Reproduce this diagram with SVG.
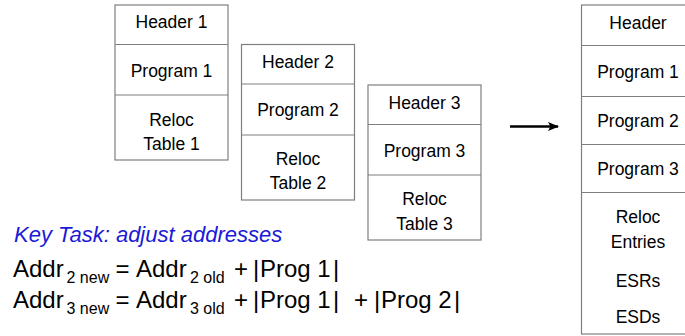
<svg xmlns="http://www.w3.org/2000/svg" width="685" height="336" viewBox="0 0 685 336">
<defs>
<style>
.box{fill:#fff;stroke:#7f7f7f;stroke-width:1.2}
.div{stroke:#7f7f7f;stroke-width:1.2}
.lbl{font-family:"Liberation Sans",Arial,sans-serif;font-size:17.5px;fill:#000;text-anchor:middle}
.eq{font-family:"Liberation Sans",Arial,sans-serif;font-size:24px;fill:#000}
.sub{font-size:16px}
.key{font-family:"Liberation Sans",Arial,sans-serif;font-size:22px;font-style:italic;fill:#1a1ad6}
</style>
<marker id="ah" markerWidth="11" markerHeight="9" refX="10" refY="4.5" orient="auto" markerUnits="userSpaceOnUse">
<path d="M0,0 L11,4.5 L0,9 L2.5,4.5 Z" fill="#000"/>
</marker>
</defs>
<rect width="685" height="336" fill="#fff"/>

<g id="file1">
<rect class="box" x="115" y="5" width="113" height="155"/>
<line class="div" x1="115" y1="44.5" x2="228" y2="44.5"/>
<line class="div" x1="115" y1="95" x2="228" y2="95"/>
<text class="lbl" x="171.5" y="28">Header 1</text>
<text class="lbl" x="171.5" y="77">Program 1</text>
<text class="lbl" x="171.5" y="126">Reloc</text>
<text class="lbl" x="171.5" y="150">Table 1</text>
</g>

<g id="file2">
<rect class="box" x="241.5" y="44.5" width="113" height="155.5"/>
<line class="div" x1="241.5" y1="84" x2="354.5" y2="84"/>
<line class="div" x1="241.5" y1="135" x2="354.5" y2="135"/>
<text class="lbl" x="298" y="67.5">Header 2</text>
<text class="lbl" x="298" y="116">Program 2</text>
<text class="lbl" x="298" y="165">Reloc</text>
<text class="lbl" x="298" y="188.5">Table 2</text>
</g>

<g id="file3">
<rect class="box" x="368" y="85" width="113" height="155"/>
<line class="div" x1="368" y1="124.5" x2="481" y2="124.5"/>
<line class="div" x1="368" y1="175" x2="481" y2="175"/>
<text class="lbl" x="424.5" y="108.5">Header 3</text>
<text class="lbl" x="424.5" y="157">Program 3</text>
<text class="lbl" x="424.5" y="205">Reloc</text>
<text class="lbl" x="424.5" y="229.5">Table 3</text>
</g>

<g id="combined">
<rect class="box" x="581.5" y="5" width="120" height="329"/>
<line class="div" x1="581.5" y1="45.5" x2="685" y2="45.5"/>
<line class="div" x1="581.5" y1="96.5" x2="685" y2="96.5"/>
<line class="div" x1="581.5" y1="144.5" x2="685" y2="144.5"/>
<line class="div" x1="581.5" y1="192.5" x2="685" y2="192.5"/>
<text class="lbl" x="638" y="29">Header</text>
<text class="lbl" x="638" y="78">Program 1</text>
<text class="lbl" x="638" y="126.5">Program 2</text>
<text class="lbl" x="638" y="175">Program 3</text>
<text class="lbl" x="638" y="223">Reloc</text>
<text class="lbl" x="638" y="248">Entries</text>
<text class="lbl" x="638" y="287">ESRs</text>
<text class="lbl" x="638" y="323">ESDs</text>
</g>

<g id="connectors">
<line x1="510" y1="126.5" x2="558" y2="126.5" stroke="#000" stroke-width="2.4" marker-end="url(#ah)"/>
</g>

<g id="notes">
<text class="key" x="14" y="241.5">Key Task: adjust addresses</text>
<text class="eq" y="276.7"><tspan x="13">Addr</tspan><tspan class="sub" x="66.5" y="282.5">2 new</tspan><tspan x="115.5" y="276.7">=</tspan><tspan x="136">Addr</tspan><tspan class="sub" x="190" y="282.5">2 old</tspan><tspan x="234" y="276.7">+</tspan><tspan x="253">|</tspan><tspan x="260">Prog 1</tspan><tspan x="333">|</tspan></text>
<text class="eq" y="308.3"><tspan x="13">Addr</tspan><tspan class="sub" x="66.5" y="314">3 new</tspan><tspan x="115.5" y="308.3">=</tspan><tspan x="136">Addr</tspan><tspan class="sub" x="190" y="314">3 old</tspan><tspan x="234" y="308.3">+</tspan><tspan x="253">|</tspan><tspan x="260">Prog 1</tspan><tspan x="333">|</tspan><tspan x="354">+</tspan><tspan x="374">|</tspan><tspan x="381">Prog 2</tspan><tspan x="454">|</tspan></text>
</g>
</svg>
